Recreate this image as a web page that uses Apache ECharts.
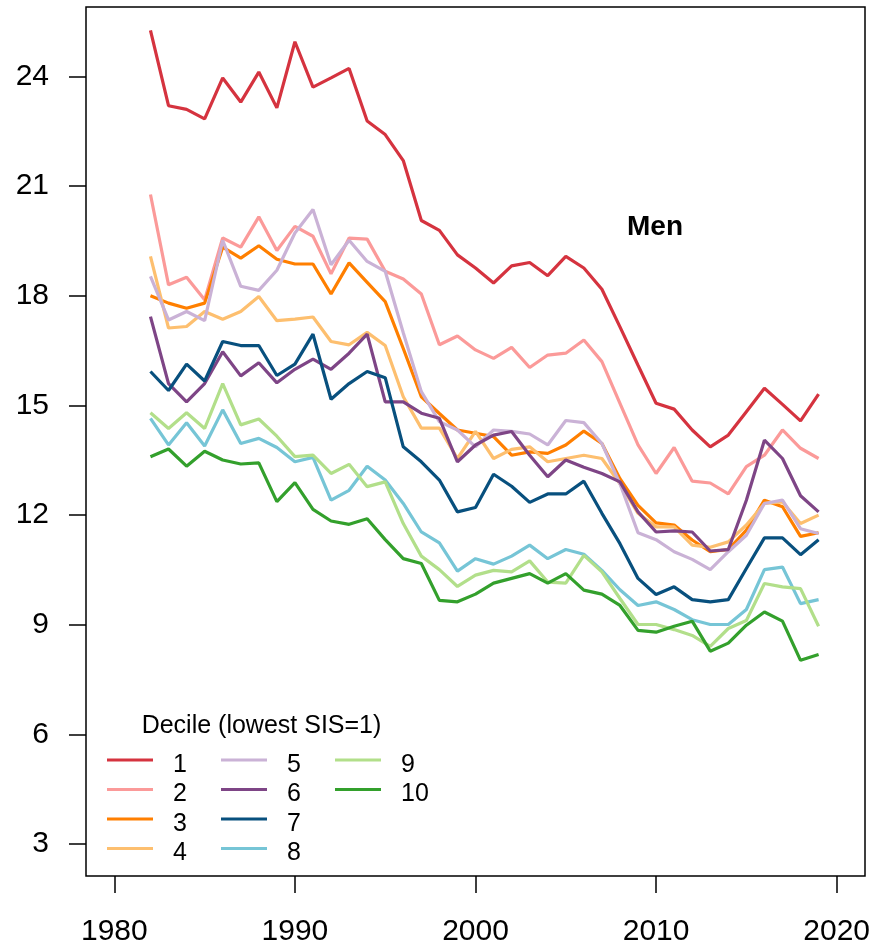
<!DOCTYPE html>
<html>
<head>
<meta charset="utf-8">
<script src="https://cdn.jsdelivr.net/npm/echarts@6/dist/echarts.min.js"></script>
<style>
  html, body { margin: 0; padding: 0; background: #fff; }
  #chart { width: 874px; height: 949px; }
</style>
</head>
<body>
<div id="chart"></div>
<script>
// years 1982..2019
const years = [];
for (let y = 1982; y <= 2019; y++) years.push(y);

const decileNames = ['1', '2', '3', '4', '5', '6', '7', '8', '9', '10'];
const colors = ['#D5333F', '#FB9A99', '#FF7F00', '#FDBF6F', '#CAB2D6',
                '#7E4586', '#08507E', '#76C5D6', '#B2DF8A', '#33A02C'];

const d1 = [25.26, 23.2, 23.1, 22.84, 23.96, 23.3, 24.12, 23.14, 24.95, 23.71,
            23.96, 24.22, 22.78, 22.41, 21.7, 20.06, 19.79, 19.12, 18.76, 18.35,
            18.82, 18.91, 18.55, 19.08, 18.76, 18.18, 17.15, 16.1, 15.06, 14.9,
            14.33, 13.87, 14.19, 14.83, 15.47, 15.03, 14.58, 15.31];
const d2 = [20.77, 18.30, 18.51, 17.89, 19.58, 19.33, 20.16, 19.24, 19.9, 19.63,
            18.6, 19.58, 19.55, 18.67, 18.46, 18.05, 16.66, 16.9, 16.52, 16.29,
            16.59, 16.04, 16.38, 16.43, 16.79, 16.2, 15.06, 13.92, 13.14, 13.85,
            12.93, 12.88, 12.58, 13.33, 13.64, 14.33, 13.83, 13.55];
const d3 = [18.0, 17.8, 17.66, 17.8, 19.33, 19.03, 19.37, 19.0, 18.87, 18.87,
            18.05, 18.9, 18.37, 17.84, 16.56, 15.24, 14.78, 14.33, 14.24, 14.15,
            13.64, 13.73, 13.69, 13.92, 14.3, 13.96, 13.0, 12.27, 11.79, 11.73,
            11.32, 11.0, 11.06, 11.59, 12.41, 12.23, 11.42, 11.52];
const d4 = [19.08, 17.12, 17.16, 17.57, 17.36, 17.57, 17.98, 17.32, 17.36, 17.42,
            16.75, 16.66, 17.0, 16.64, 15.24, 14.38, 14.38, 13.55, 14.29, 13.55,
            13.8, 13.87, 13.46, 13.55, 13.64, 13.55, 12.86, 12.05, 11.68, 11.68,
            11.18, 11.12, 11.27, 11.73, 12.32, 12.36, 11.77, 12.0];
const d5 = [18.53, 17.34, 17.57, 17.32, 19.52, 18.26, 18.15, 18.7, 19.72, 20.36,
            18.85, 19.52, 18.94, 18.67, 16.99, 15.38, 14.56, 14.33, 13.87, 14.33,
            14.29, 14.22, 13.92, 14.59, 14.53, 13.96, 12.86, 11.52, 11.33, 11.0,
            10.79, 10.51, 11.0, 11.45, 12.32, 12.41, 11.63, 11.5];
const d6 = [17.43, 15.6, 15.1, 15.6, 16.47, 15.81, 16.17, 15.62, 15.99, 16.27,
            15.99, 16.43, 16.95, 15.1, 15.1, 14.79, 14.65, 13.46, 13.92, 14.19,
            14.29, 13.64, 13.05, 13.51, 13.31, 13.14, 12.91, 12.09, 11.54, 11.57,
            11.54, 11.02, 11.06, 12.41, 14.05, 13.55, 12.53, 12.09];
const d7 = [15.93, 15.41, 16.13, 15.67, 16.75, 16.64, 16.64, 15.82, 16.13, 16.95,
            15.17, 15.6, 15.93, 15.76, 13.87, 13.46, 12.96, 12.09, 12.21, 13.12,
            12.79, 12.35, 12.58, 12.58, 12.93, 12.05, 11.22, 10.27, 9.83, 10.04,
            9.69, 9.63, 9.69, 10.54, 11.38, 11.38, 10.92, 11.33];
const d8 = [14.65, 13.92, 14.53, 13.89, 14.88, 13.96, 14.1, 13.85, 13.46, 13.58,
            12.41, 12.68, 13.34, 12.96, 12.32, 11.54, 11.24, 10.47, 10.81, 10.66,
            10.88, 11.18, 10.81, 11.06, 10.93, 10.49, 9.96, 9.53, 9.63, 9.42,
            9.14, 9.01, 9.01, 9.42, 10.51, 10.58, 9.58, 9.69];
const d9 = [14.8, 14.37, 14.8, 14.37, 15.6, 14.47, 14.63, 14.16, 13.6, 13.64,
            13.14, 13.39, 12.78, 12.91, 11.77, 10.88, 10.51, 10.05, 10.36, 10.49,
            10.45, 10.75, 10.17, 10.14, 10.9, 10.45, 9.72, 9.01, 9.01, 8.87,
            8.71, 8.41, 8.9, 9.12, 10.13, 10.04, 9.99, 8.96];
const d10 = [13.6, 13.81, 13.34, 13.75, 13.51, 13.4, 13.43, 12.37, 12.89, 12.16,
             11.84, 11.75, 11.9, 11.33, 10.81, 10.68, 9.67, 9.63, 9.84, 10.14,
             10.27, 10.4, 10.14, 10.4, 9.95, 9.84, 9.53, 8.85, 8.8, 8.96,
             9.1, 8.28, 8.5, 8.99, 9.35, 9.1, 8.03, 8.19];

const xTicks = [1980, 1990, 2000, 2010, 2020];
const yTicks = [3, 6, 9, 12, 15, 18, 21, 24];

const allData = [d1, d2, d3, d4, d5, d6, d7, d8, d9, d10];
const font = 'Liberation Sans, Arial, Helvetica, sans-serif';

let chart = echarts.init(document.getElementById('chart'));

let series = allData.map((vals, i) => ({
    name: decileNames[i],
    type: 'line',
    symbol: 'none',
    data: years.map((yr, j) => [yr, vals[j]]),
    lineStyle: { color: colors[i], width: 3.2 },
    itemStyle: { color: colors[i] }
}));

// legend stroke sits in the top of the icon box so the label ends up a bit lower, as in R
const legendIcon = 'path://M0,0L46,0L46,3L0,3ZM0,13L0,13Z';

chart.setOption({
    animation: false,
    color: colors,
    grid: {
        left: 86, right: 9, top: 7, bottom: 73,
        show: true,
        borderColor: '#000',
        borderWidth: 1.5,
        outerBoundsMode: 'none'
    },
    xAxis: {
        type: 'value',
        min: 1978.43,
        max: 2021.57,
        splitLine: { show: false },
        axisLine: { show: false },
        axisTick: { show: true, inside: false, length: 17, customValues: xTicks,
                    lineStyle: { color: '#000', width: 1.5 } },
        axisLabel: { customValues: xTicks, margin: 41, color: '#000',
                     fontSize: 30, fontFamily: font,
                     formatter: v => String(v) }
    },
    yAxis: {
        type: 'value',
        min: 2.13,
        max: 25.9,
        splitLine: { show: false },
        axisLine: { show: false },
        axisTick: { show: true, inside: false, length: 17, customValues: yTicks,
                    lineStyle: { color: '#000', width: 1.5 } },
        axisLabel: { customValues: yTicks, margin: 37, color: '#000',
                     fontSize: 30, fontFamily: font }
    },
    legend: {
        orient: 'vertical',
        left: 107,
        top: 752.5,
        height: 118,
        padding: 0,
        itemGap: 4.5,
        itemWidth: 46,
        itemHeight: 13,
        icon: legendIcon,
        itemStyle: { borderWidth: 0 },
        data: decileNames,
        textStyle: {
            color: '#000', fontSize: 25, fontFamily: font,
            lineHeight: 25, width: 43.5, padding: [0, 0, 0, 15]
        }
    },
    graphic: [
        {
            type: 'text',
            style: { text: 'Men', x: 655, y: 227, align: 'center', verticalAlign: 'middle',
                     font: 'bold 28px ' + font, fill: '#000' }
        },
        {
            type: 'text',
            style: { text: 'Decile (lowest SIS=1)', x: 261.5, y: 726, align: 'center',
                     verticalAlign: 'middle', font: '25px ' + font, fill: '#000' }
        }
    ],
    series: series
});
</script>
</body>
</html>
